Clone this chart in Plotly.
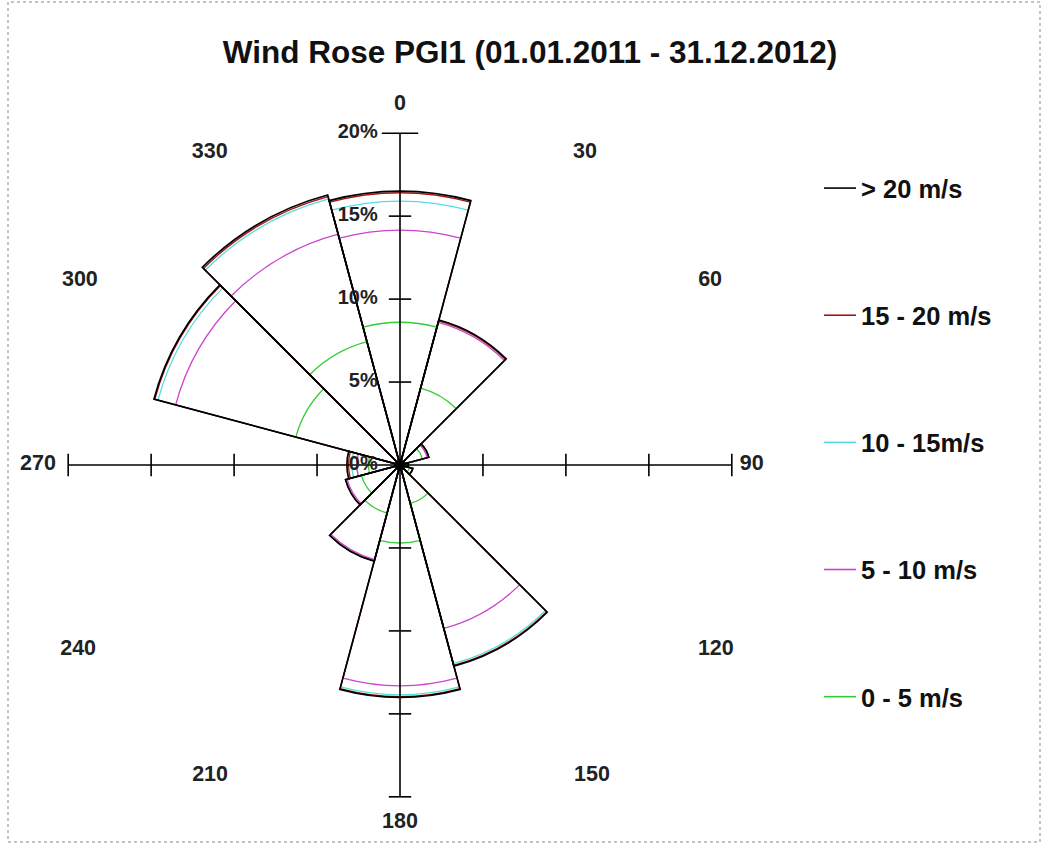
import numpy as np
import plotly.graph_objects as go

# ---------------- data ----------------
title_text = "Wind Rose PGI1 (01.01.2011 - 31.12.2012)"
directions = [0, 30, 60, 90, 120, 150, 180, 210, 240, 270, 300, 330]
direction_labels = ["0", "30", "60", "90", "120", "150", "180", "210", "240", "270", "300", "330"]

# frequency (%) of each speed class per direction sector
freq_0_5 = [8.6, 4.8, 1.4, 0.4, 0.6, 2.4, 4.7, 3.0, 2.4, 1.9, 6.5, 7.7]
freq_5_10 = [5.55, 4.1, 0.3, 0.1, 0.2, 7.8, 8.6, 2.9, 0.9, 0.7, 7.5, 6.7]
freq_10_15 = [1.75, 0.1, 0.1, 0.0, 0.0, 2.2, 0.55, 0.1, 0.1, 0.3, 1.1, 2.2]
freq_15_20 = [0.5, 0.0, 0.0, 0.0, 0.0, 0.1, 0.1, 0.0, 0.0, 0.2, 0.2, 0.15]
freq_gt_20 = [0.1, 0.05, 0.0, 0.0, 0.0, 0.05, 0.05, 0.0, 0.0, 0.1, 0.05, 0.1]

class_names = ["0 - 5 m/s", "5 - 10 m/s", "10 - 15m/s", "15 - 20 m/s", "> 20 m/s"]
class_colors = ["#33cc33", "#cc44cc", "#55dddd", "#aa1111", "#000000"]

radial_ticks = [0, 5, 10, 15, 20]
radial_tick_labels = ["0%", "5%", "10%", "15%", "20%"]

# ---------------- layout helpers (label placement, not data) ----------------
label_radius = [21.7, 21.9, 21.76, 21.2, 22.06, 22.03, 21.58, 21.97, 22.38, 21.82, 22.28, 22.07]
label_angle_shift = [0, 0.6, -0.8, 0, 0.35, -1.7, 0, 1.4, 0.1, 0, 0, -1.3]

# ---------------- figure ----------------
series = [freq_0_5, freq_5_10, freq_10_15, freq_15_20, freq_gt_20]
cum = np.cumsum(np.array(series), axis=0)

FONT = "Liberation Sans, Arial, sans-serif"
fig = go.Figure()

# sector outlines: smallest cumulative first, total (black) last on top
for i in range(len(class_names)):
    fig.add_trace(go.Barpolar(
        r=cum[i], theta=directions, width=[30] * len(directions),
        marker=dict(color="rgba(0,0,0,0)",
                    line=dict(color=class_colors[i], width=1.7 if i == 4 else 1.3)),
        showlegend=False, hoverinfo="skip"))

rmax = max(radial_ticks)
# cross axes
fig.add_trace(go.Scatterpolar(r=[rmax, 0, rmax], theta=[0, 0, 180], mode="lines",
                              line=dict(color="black", width=1.6), showlegend=False, hoverinfo="skip"))
fig.add_trace(go.Scatterpolar(r=[rmax, 0, rmax], theta=[270, 0, 90], mode="lines",
                              line=dict(color="black", width=1.6), showlegend=False, hoverinfo="skip"))

# ticks
tick_r = [t for t in radial_ticks if t > 0]
inner = [t for t in tick_r if t < rmax]
fig.add_trace(go.Scatterpolar(
    r=inner + tick_r, theta=[0] * len(inner) + [180] * len(tick_r), mode="markers",
    marker=dict(symbol="line-ew", size=16, line=dict(width=1.6, color="black")),
    showlegend=False, hoverinfo="skip"))
fig.add_trace(go.Scatterpolar(
    r=[rmax], theta=[0], mode="markers",
    marker=dict(symbol="line-ew", size=26, line=dict(width=1.6, color="black")),
    showlegend=False, hoverinfo="skip"))
fig.add_trace(go.Scatterpolar(
    r=tick_r + tick_r, theta=[90] * len(tick_r) + [270] * len(tick_r), mode="markers",
    marker=dict(symbol="line-ns", size=16, line=dict(width=1.6, color="black")),
    showlegend=False, hoverinfo="skip"))

# centre blob
fig.add_trace(go.Scatterpolar(r=[0], theta=[0], mode="markers",
                              marker=dict(size=11, color="black"), showlegend=False, hoverinfo="skip"))

# percent labels
fig.add_trace(go.Scatterpolar(
    r=radial_ticks, theta=[0] * len(radial_ticks), mode="markers+text",
    text=radial_tick_labels, textposition="middle left",
    marker=dict(size=34, opacity=0),
    textfont=dict(family=FONT, size=20, color="#222222", weight="bold"),
    showlegend=False, hoverinfo="skip"))

# direction labels
fig.add_trace(go.Scatterpolar(
    r=label_radius, theta=[d + s for d, s in zip(directions, label_angle_shift)],
    mode="text", text=direction_labels, textposition="middle center", cliponaxis=False,
    textfont=dict(family=FONT, size=21.5, color="#222222", weight="bold"),
    showlegend=False, hoverinfo="skip"))

# legend entries (top: > 20 m/s)
for i in reversed(range(len(class_names))):
    fig.add_trace(go.Scatterpolar(
        r=[0], theta=[0], mode="lines", name=class_names[i], legendgroup=class_names[i],
        line=dict(color=class_colors[i], width=1.6), hoverinfo="skip"))

W, H = 1046, 844
RANGE_MAX = 22.5
PX_PER_PCT = 365 / 22
cx, cy, R = 400, 465, RANGE_MAX * PX_PER_PCT
fig.update_layout(
    width=W, height=H, margin=dict(l=0, r=0, t=0, b=0),
    paper_bgcolor="white", plot_bgcolor="white",
    title=dict(text=title_text, x=530 / W, xanchor="center", y=1 - 52 / H, yanchor="middle",
               font=dict(family=FONT, size=31.5, color="#111111", weight="bold")),
    polar=dict(
        domain=dict(x=[(cx - R) / W, (cx + R) / W], y=[1 - (cy + R) / H, 1 - (cy - R) / H]),
        bgcolor="white", barmode="overlay",
        radialaxis=dict(visible=False, range=[0, RANGE_MAX]),
        angularaxis=dict(visible=False, direction="clockwise", rotation=90),
    ),
    legend=dict(x=819 / W, xanchor="left", y=1 - 165 / H, yanchor="top",
                traceorder="grouped", tracegroupgap=91, itemwidth=32,
                font=dict(family=FONT, size=25.5, color="#111111", weight="bold"),
                bgcolor="rgba(0,0,0,0)"),
    shapes=[dict(type="rect", xref="paper", yref="paper",
                 x0=8 / W, x1=1040 / W, y0=2 / H, y1=1 - 2 / H,
                 line=dict(color="#888888", width=1, dash="dot"))],
)

fig.write_html("out.html", config={"displayModeBar": False},
               post_script="document.body.style.margin='0px';")
